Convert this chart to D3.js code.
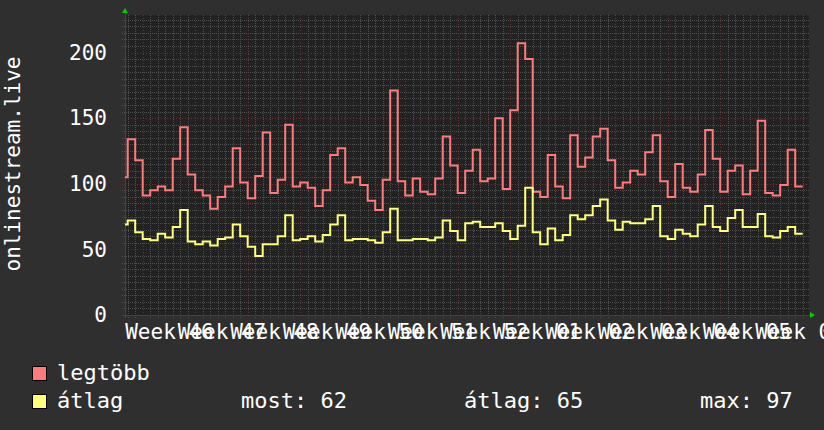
<!DOCTYPE html>
<html><head><meta charset="utf-8">
<script src="https://cdn.jsdelivr.net/npm/d3@7"></script>
<style>html,body{margin:0;padding:0;background:#2f2f2f;overflow:hidden}svg{display:block}</style>
</head><body><svg id="c" width="824" height="430"></svg>
<script>
// ---- data ----
const firstDay = "2023-11-10";            // first daily bucket
const viewStart = "2023-11-10T15:22:00Z"; // left edge of time window
const viewEnd = "2024-02-09T20:10:00Z";   // right edge of time window
const legtobb = [105,134,118,91,95,98,95,119,143,107,95,91,81,90,98,127,101,89,106,139,93,
  103,145,98,101,97,83,95,122,127,101,105,99,87,80,103,171,102,91,104,94,92,104,136,114,93,110,126,102,104,150,96,
  156,207,195,94,90,122,98,89,137,113,120,136,142,118,97,101,110,107,124,137,102,90,115,97,94,107,141,119,94,110,114,
  92,110,148,93,91,99,126,98];
const atlag = [69,72,63,58,57,62,59,67,80,56,54,56,53,58,59,69,60,52,45,54,54,
  60,76,57,58,60,56,61,69,76,57,58,58,57,55,63,81,57,57,58,58,57,59,72,64,57,70,71,67,67,70,64,
  58,68,97,63,54,66,57,61,76,73,76,83,88,72,65,71,70,70,73,83,60,58,65,62,60,69,83,67,64,74,80,
  67,67,77,60,59,64,67,62];
const yTicks = [0,50,100,150,200];
const yMax = 228.6;
const weekLabels = ["Week 46","Week 47","Week 48","Week 49","Week 50","Week 51","Week 52",
  "Week 01","Week 02","Week 03","Week 04","Week 05","Week 06"];
const seriesNames = ["legtöbb","átlag"];
const seriesColors = ["#ff7a7a","#ffff7a"];
const statLabels = ["most: 62","átlag: 65","max: 97"];
const yTitle = "onlinestream.live";

// ---- layout ----
const M = {l:125, r:809, t:15, b:315};
const FONT = "'DejaVu Sans Mono', monospace";
const svg = d3.select("#c");

const x = d3.scaleUtc().domain([new Date(viewStart), new Date(viewEnd)]).range([M.l, M.r]);
const y = d3.scaleLinear().domain([0, yMax]).range([M.b, M.t]);

svg.append("rect").attr("width",824).attr("height",430).attr("fill","#2f2f2f");
svg.append("rect").attr("x",M.l).attr("y",M.t).attr("width",M.r-M.l).attr("height",M.b-M.t).attr("fill","#222222");

// grid
const g = svg.append("g").attr("shape-rendering","crispEdges");
const minorY = d3.range(5, yMax, 5).filter(v => v % 50 !== 0);
const majorY = yTicks.filter(v => v > 0);
const days = d3.utcDay.range(x.domain()[0], x.domain()[1]);
const mondays = d3.utcMonday.range(x.domain()[0], x.domain()[1]);
const px = v => Math.round(v) + 0.5;
g.selectAll(".hy").data(minorY).join("line")
  .attr("x1",M.l-3).attr("x2",M.r).attr("y1",d=>px(y(d))).attr("y2",d=>px(y(d)))
  .attr("stroke","#4e4e4e").attr("stroke-dasharray","1,1");
g.selectAll(".vx").data(days.filter(d => d.getUTCDay() !== 1)).join("line")
  .attr("y1",M.t).attr("y2",M.b+3).attr("x1",d=>px(x(d))).attr("x2",d=>px(x(d)))
  .attr("stroke","#4e4e4e").attr("stroke-dasharray","1,1");
g.selectAll(".hM").data(majorY).join("line")
  .attr("x1",M.l-3).attr("x2",M.r).attr("y1",d=>px(y(d))).attr("y2",d=>px(y(d)))
  .attr("stroke","#6e3232").attr("stroke-dasharray","1,2");
g.selectAll(".vM").data(mondays).join("line")
  .attr("y1",M.t).attr("y2",M.b+3).attr("x1",d=>px(x(d))).attr("x2",d=>px(x(d)))
  .attr("stroke","#6e3232").attr("stroke-dasharray","1,2");

// axis lines
g.append("line").attr("x1",M.l-3).attr("x2",M.r+3).attr("y1",M.b+0.5).attr("y2",M.b+0.5).attr("stroke","#444");
g.append("line").attr("x1",M.l+0.5).attr("x2",M.l+0.5).attr("y1",M.b+3).attr("y2",M.t-3).attr("stroke","#444");

// arrows
svg.append("path").attr("d",`M${M.l-3},${M.t-2}L${M.l+3},${M.t-2}L${M.l},${M.t-7}Z`).attr("fill","#00d000");
svg.append("path").attr("d",`M${M.r+1},${M.b-3}L${M.r+1},${M.b+3}L${M.r+6},${M.b}Z`).attr("fill","#00d000");

// series
const start = new Date(firstDay + "T00:00:00Z");
function toPoints(vals){
  const pts = vals.map((v,i) => ({date: d3.utcDay.offset(start, i), v}));
  pts.push({date: d3.utcDay.offset(start, vals.length), v: vals[vals.length-1]});
  return pts;
}
svg.append("clipPath").attr("id","clip").append("rect")
  .attr("x",M.l).attr("y",M.t).attr("width",M.r-M.l).attr("height",M.b-M.t);
const line = d3.line().x(d=>x(d.date)).y(d=>y(d.v)).curve(d3.curveStepAfter);
[legtobb, atlag].forEach((vals,i) => {
  svg.append("path").datum(toPoints(vals)).attr("clip-path","url(#clip)")
    .attr("d",line).attr("fill","none").attr("stroke",seriesColors[i]).attr("stroke-width",2)
    .attr("stroke-linejoin","miter");
});

// y axis labels
const ya = svg.append("g").attr("transform",`translate(${M.l},0)`)
  .call(d3.axisLeft(y).tickValues(yTicks).tickSize(0).tickPadding(18));
ya.select(".domain").remove();
ya.selectAll("text").attr("font-family",FONT).attr("font-size",21).attr("fill","#ffffff");

// x axis labels
const weekMids = mondays.map(d => new Date(d.getTime() + 3.5*864e5));
const xa = svg.append("g").attr("transform",`translate(0,${M.b})`)
  .call(d3.axisBottom(x).tickValues(weekMids).tickFormat((d,i)=>weekLabels[i]).tickSize(0));
xa.select(".domain").remove();
xa.selectAll("text").attr("font-family",FONT).attr("font-size",21).attr("fill","#ffffff")
  .attr("y",24).attr("dy",0);

// y title
svg.append("text").attr("transform","translate(19.5,164) rotate(-90)")
  .attr("text-anchor","middle").attr("font-family",FONT).attr("font-size",21).attr("fill","#ffffff")
  .text(yTitle);

// legend
const legY = [366, 394];
seriesNames.forEach((n,i) => {
  svg.append("rect").attr("x",32.5).attr("y",legY[i]+0.5).attr("width",14).attr("height",14)
    .attr("fill",seriesColors[i]).attr("stroke","#000").attr("stroke-width",1);
  svg.append("text").attr("x",57).attr("y",legY[i]+14).attr("font-family",FONT).attr("font-size",22)
    .attr("fill","#ffffff").text(n);
});
const statX = [241, 464, 700];
statLabels.forEach((s,i) => {
  svg.append("text").attr("x",statX[i]).attr("y",legY[1]+14).attr("font-family",FONT).attr("font-size",22)
    .attr("fill","#ffffff").text(s);
});
</script></body></html>
